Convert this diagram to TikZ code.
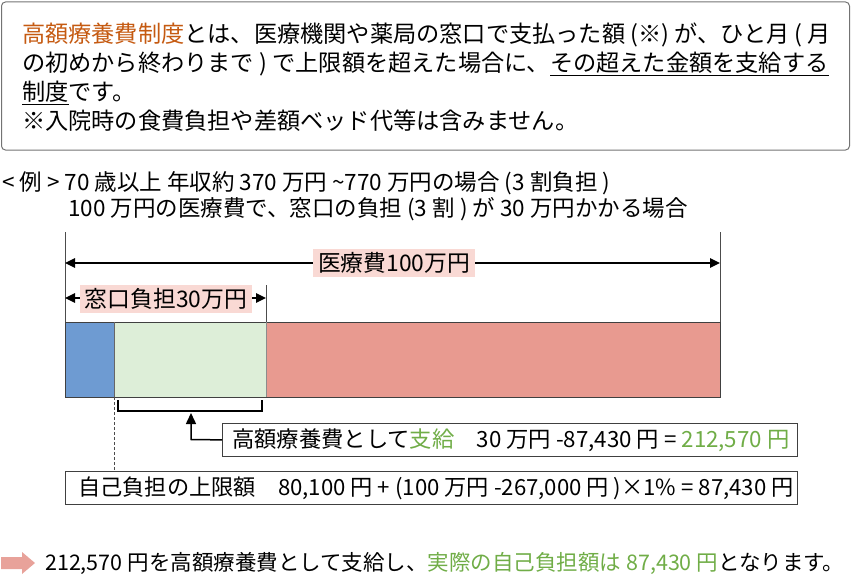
\documentclass[tikz,border=0pt]{standalone}
\usepackage{fontspec}
\setmainfont{Noto Sans CJK JP}
\usetikzlibrary{arrows.meta}
\definecolor{ttlorange}{HTML}{C55A11}
\definecolor{okgreen}{HTML}{70AD47}
\definecolor{pinklab}{HTML}{F9D9D4}
\definecolor{barblue}{HTML}{6E9BD2}
\definecolor{bargreen}{HTML}{DDEED8}
\definecolor{barred}{HTML}{E89A90}
\definecolor{arrowpink}{HTML}{E8A29A}
\tikzset{
  txt/.style={inner sep=0pt, anchor=west, font=\fontsize{22.3}{26}\selectfont},
  toptxt/.style={inner sep=0pt, anchor=west, font=\fontsize{23.2}{27}\selectfont},
  lab/.style={fill=pinklab, inner xsep=5pt, inner ysep=3pt, font=\fontsize{22.8}{26}\selectfont},
  dimarrow/.style={line width=1.4pt, {Triangle[length=10pt,width=9.5pt]}-{Triangle[length=10pt,width=9.5pt]}},
  framebox/.style={draw=black!75, line width=0.8pt, fill=white},
  guide/.style={draw=black!70, line width=0.8pt}
}
\begin{document}
\begin{tikzpicture}[x=1pt,y=-1pt]
\useasboundingbox (0,0) rectangle (852,578);
% top explanation box
\draw[draw=black!55, line width=1pt, rounded corners=4pt] (1.5,2) rectangle (849.5,150);
\node[toptxt] (l1) at (22,35) {{\color{ttlorange}高額療養費制度}とは、医療機関や薬局の窓口で支払った額 (※) が、ひと月 ( 月};
\node[toptxt] (l2) at (22,64) {の初めから終わりまで ) で上限額を超えた場合に、\underline{その超えた金額を支給する}};
\node[toptxt] (l3) at (22,93) {\underline{制度}です。};
\node[toptxt] (l4) at (22,121) {※入院時の食費負担や差額ベッド代等は含みません。};
% example
\node[txt, font=\fontsize{22.5}{26}\selectfont] (e1) at (2,183) {< 例 > 70 歳以上 年収約 370 万円 \textasciitilde770 万円の場合 (3 割負担 )};
\node[txt, font=\fontsize{22.5}{26}\selectfont] (e2) at (68,209) {100 万円の医療費で、窓口の負担 (3 割 ) が 30 万円かかる場合};
% coordinates
\coordinate (vlTop) at (65,232);
\coordinate (vrTop) at (720,232);
\coordinate (barTL) at (65,322);
\coordinate (barTR) at (720,322);
\coordinate (a1L) at (65,263);
\coordinate (a1R) at (720,263);
\coordinate (a2L) at (65,298);
\coordinate (a2R) at (266,298);
\coordinate (v2Top) at (266,285);
\coordinate (v2Bot) at (266,322);
% bar
\fill[barblue] (65,322) rectangle (114,397);
\fill[bargreen] (114,322) rectangle (266,397);
\fill[barred] (266,322) rectangle (720,397);
\draw[black!75, line width=0.8pt] (65,322) rectangle (720,397);
\draw[black!60, line width=0.8pt] (114,322) -- (114,397);
\draw[black!45, line width=0.6pt] (266,322) -- (266,397);
% guides
\draw[guide] (vlTop) -- (barTL);
\draw[guide] (vrTop) -- (barTR);
\draw[guide] (v2Top) -- (v2Bot);
\draw[dimarrow] (a1L) -- (a1R);
\draw[dimarrow] (a2L) -- (a2R);
\node[lab] (lab1) at (394,263) {医療費100万円};
\node[lab] (lab2) at (166,299) {窓口負担30万円};
% bracket
\draw[black, line width=1.5pt] (118,400) -- (118,411) -- (262,411) -- (262,400);
\coordinate (brk) at (191,413);
% boxes
\node[framebox, minimum width=575pt, minimum height=33pt, anchor=north west, inner sep=0pt] (b1) at (222,423) {};
\node[txt] (b1t) at (232,440) {高額療養費として{\color{okgreen}支給}\quad 30 万円 -87,430 円 = {\color{okgreen}212,570 円}};
\draw[line width=1.5pt, -{Triangle[length=11pt,width=10pt]}] (b1.west) -- (191,439.5) -- (brk);
\coordinate (dashTop) at (114,397);
\node[framebox, minimum width=732pt, minimum height=33pt, anchor=north west, inner sep=0pt] (b2) at (65,471) {};
\draw[black!70, line width=0.8pt, dash pattern=on 3pt off 2pt] (dashTop) -- (b2.north -| dashTop);
\node[txt, font=\fontsize{22.2}{26}\selectfont] (b2t) at (78,488) {自己負担の上限額\quad 80,100 円 + (100 万円 -267,000 円 )×1\% = 87,430 円};
% bottom conclusion
\fill[arrowpink] (1,557) -- (22,557) -- (22,552) -- (35,563) -- (22,574) -- (22,569) -- (1,569) -- cycle;
\node[txt, font=\fontsize{21.5}{26}\selectfont] (concl) at (45,563) {212,570 円を高額療養費として支給し、{\color{okgreen}実際の自己負担額は 87,430 円}となります。};
\end{tikzpicture}
\end{document}
